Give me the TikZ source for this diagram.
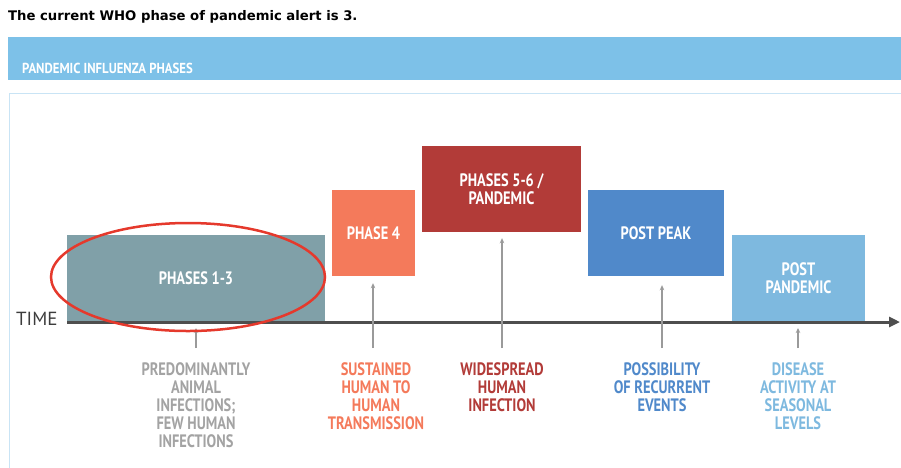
\documentclass[tikz,border=0pt]{standalone}
\usepackage{fontspec}
\setmainfont{PT Sans}
\newfontfamily\condfont{PT Sans}[FakeStretch=0.8]
\newfontfamily\hdrfont{PT Sans}[FakeStretch=0.88]
\newfontfamily\titlefont{DejaVu Sans}
\usetikzlibrary{arrows.meta,shapes.geometric}
\definecolor{hdrblue}{HTML}{7DC1E8}
\definecolor{panelblue}{HTML}{C9E4F5}
\definecolor{cA}{HTML}{80A0A8}
\definecolor{cB}{HTML}{F47A5B}
\definecolor{cC}{HTML}{B23B38}
\definecolor{cD}{HTML}{5089CA}
\definecolor{cE}{HTML}{7EB9DF}
\definecolor{gA}{HTML}{A3A3A3}
\definecolor{axisgray}{HTML}{4E4E4E}
\definecolor{ptrgray}{HTML}{9A9A9A}
\definecolor{ringred}{HTML}{E5392C}
\definecolor{timegray}{HTML}{3C3C3C}
\tikzset{
  phase/.style={minimum height=86pt, inner sep=0pt, text=white, align=center,
    font=\condfont\bfseries\fontsize{18}{18}\selectfont},
  desc/.style={anchor=north, inner sep=0pt, align=center,
    font=\condfont\bfseries\fontsize{18}{18}\selectfont},
  pointer/.style={draw=ptrgray, line width=1.2pt, -{Stealth[length=5pt,width=4.5pt]}, shorten >=7pt},
  axisline/.style={draw=axisgray, line width=3pt, -{Triangle[length=11pt,width=10pt]}},
}
\begin{document}
\begin{tikzpicture}[x=1pt,y=-1pt]
\useasboundingbox (0,0) rectangle (901,467);
% title
\node[anchor=base west, inner sep=0pt, font=\titlefont\bfseries\fontsize{13.2}{15}\selectfont] (title) at (8,20) {The current WHO phase of pandemic alert is 3.};
% panel
\draw[panelblue, line width=1.5pt] (9.5,93.5) rectangle (930,490);
% header band
\node[fill=hdrblue, anchor=north west, minimum width=900pt, minimum height=43pt, inner sep=0pt] (hdr) at (8,37) {};
\node[anchor=west, inner sep=0pt, text=white, font=\hdrfont\bfseries\fontsize{14.5}{15}\selectfont] (hdrtxt) at (22,68) {PANDEMIC INFLUENZA PHASES};
% phase boxes
\node[phase, fill=cA, minimum width=258pt] (p13) at (196,278) {PHASES 1-3};
\node[phase, fill=cB, minimum width=83pt] (p4) at (373.5,233) {PHASE 4};
\node[phase, fill=cC, minimum width=159pt] (p56) at (501.5,189) {PHASES 5-6 /\\PANDEMIC};
\node[phase, fill=cD, minimum width=136pt] (pp) at (656,233) {POST PEAK};
\node[phase, fill=cE, minimum width=133pt] (pd) at (798.5,278) {POST\\PANDEMIC};
% axis
\coordinate (ax0) at (67,322);
\coordinate (ax1) at (900,322);
\draw[axisline] (ax0) -- (ax1);
\node[anchor=base west, inner sep=0pt, text=timegray, font=\fontsize{19}{19}\selectfont] (time) at (16,325.5) {TIME};
% descriptions
\node[desc, text=gA] (d13) at (196,362) {PREDOMINANTLY\\ANIMAL\\INFECTIONS;\\FEW HUMAN\\INFECTIONS};
\node[desc, text=cB] (d4) at (376,362) {SUSTAINED\\HUMAN TO\\HUMAN\\TRANSMISSION};
\node[desc, text=cC] (d56) at (502,362) {WIDESPREAD\\HUMAN\\INFECTION};
\node[desc, text=cD] (dpp) at (662,362) {POSSIBILITY\\OF RECURRENT\\EVENTS};
\node[desc, text=cE] (dpd) at (798,362) {DISEASE\\ACTIVITY AT\\SEASONAL\\LEVELS};
% pointers
\coordinate (t13) at (196,348);
\coordinate (t4) at (373,348);
\coordinate (t56) at (502,348);
\coordinate (tpp) at (662,348);
\coordinate (tpd) at (798,348);
\draw[pointer, shorten >=6pt] (t13) -- (t13 |- ax0);
\draw[pointer] (t4) -- (t4 |- p4.south);
\draw[pointer, shorten >=6pt] (t56) -- (t56 |- p56.south);
\draw[pointer, shorten >=9pt] (tpp) -- (tpp |- pp.south);
\draw[pointer, shorten >=6pt] (tpd) -- (tpd |- ax0);
% highlight ring
\node[draw=ringred, line width=2.5pt, ellipse, minimum width=274pt, minimum height=108pt, inner sep=0pt] (ring) at (188,277) {};
\end{tikzpicture}
\end{document}
